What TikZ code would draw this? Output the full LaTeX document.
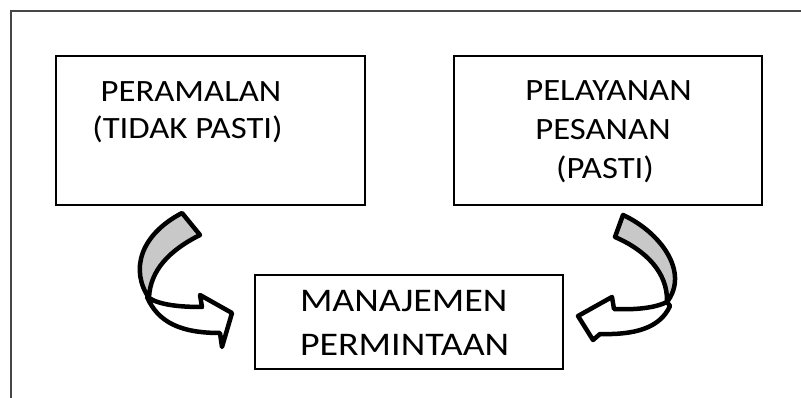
\documentclass[tikz,border=0pt]{standalone}
\usepackage{fontspec}
\setmainfont{Carlito}
\definecolor{bandgray}{RGB}{200,200,200}
\definecolor{framegray}{RGB}{70,70,70}
\newcommand{\wideA}[1]{\scalebox{1.12}[1]{#1}}
\newcommand{\wideB}[1]{\scalebox{1.15}[1]{#1}}
\tikzset{
  boxnode/.style={draw=black, line width=2pt, rectangle, inner sep=0pt, outer sep=0pt},
  txt/.style={inner sep=0pt, outer sep=0pt, font=\fontsize{31}{37}\selectfont, text=black},
  bigtxt/.style={inner sep=0pt, outer sep=0pt, font=\fontsize{33}{39}\selectfont, text=black},
  arrowline/.style={draw=black, line width=4.5pt, line join=round},
  framestyle/.style={draw=framegray, line width=2pt}
}
\begin{document}
\begin{tikzpicture}[x=1pt,y=-1pt]
\useasboundingbox (0,0) rectangle (801,398);
\clip (0,0) rectangle (801,398);
% outer frame (cut by the picture edges)
\coordinate (fbl) at (11,420);
\coordinate (ftl) at (11,11);
\coordinate (ftr) at (830,11);
\draw[framestyle] (fbl) -- (ftl) -- (ftr);
% boxes
\node[boxnode, minimum width=309pt, minimum height=149pt] (b1) at (210.5,130.5) {};
\node[boxnode, minimum width=308pt, minimum height=149pt] (b2) at (608,130.5) {};
\node[boxnode, minimum width=308pt, minimum height=94pt] (b3) at (409,322) {};
% texts
\node[txt, anchor=base] (t1a) at (191,102) {\wideA{PERAMALAN}};
\node[txt, anchor=base] (t1b) at (187.5,139) {\wideA{(TIDAK PASTI)}};
\node[txt, anchor=base] (t2a) at (608.5,101) {\wideA{PELAYANAN}};
\node[txt, anchor=base] (t2b) at (603,140) {\wideA{PESANAN}};
\node[txt, anchor=base] (t2c) at (605,179) {\wideA{(PASTI)}};
\node[bigtxt, anchor=base west] (t3a) at (300,312) {\wideB{MANAJEMEN}};
\node[bigtxt, anchor=base west] (t3b) at (300,355) {\wideB{PERMINTAAN}};
% left curved arrow
\draw[arrowline, fill=bandgray] (182,213) -- (200,235)
  .. controls (170,250) and (150,270) .. (149,298)
  .. controls (130,270) and (140,235) .. (182,213) -- cycle;
\draw[arrowline, fill=white] (147,297)
  .. controls (158,322) and (180,333) .. (220,333)
  -- (222,347) -- (232,313) -- (200,295) -- (202,307)
  .. controls (180,307) and (160,305) .. (149,298) -- cycle;
% right curved arrow
\draw[arrowline, fill=bandgray] (623,215) -- (615,237)
  .. controls (645,250) and (668,272) .. (667,302)
  .. controls (690,272) and (660,232) .. (623,215) -- cycle;
\draw[arrowline, fill=white] (670,306)
  .. controls (660,328) and (635,335) .. (600,334)
  -- (593,340) -- (578,316) -- (612,297) -- (614,309)
  .. controls (635,310) and (655,308) .. (667,302) -- cycle;
\end{tikzpicture}
\end{document}
